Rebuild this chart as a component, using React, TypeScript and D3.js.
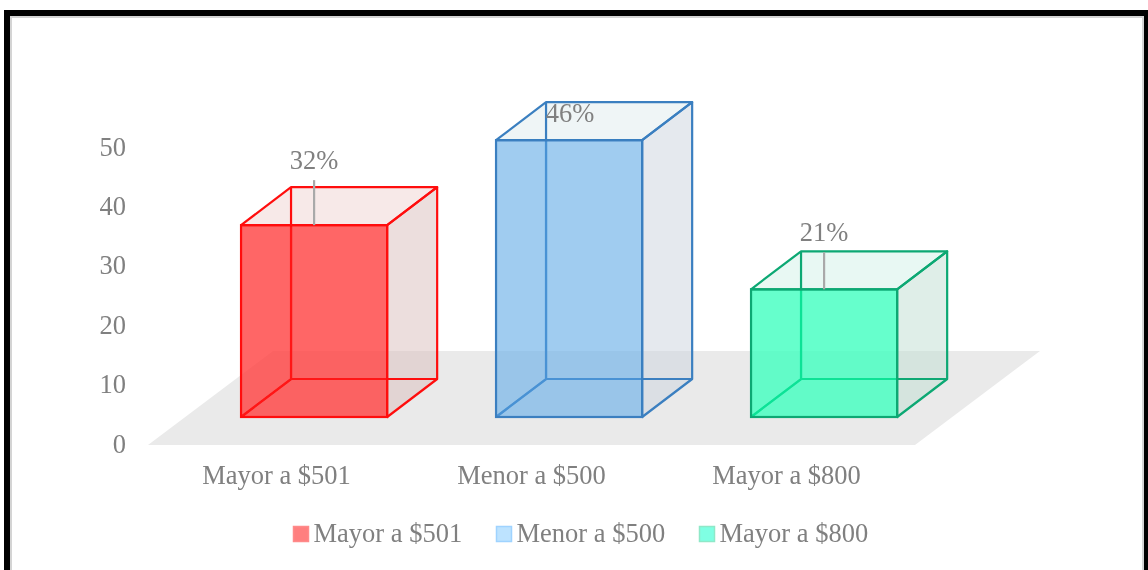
import React from "react";
import * as d3 from "d3";

const categories = ["Mayor a $501", "Menor a $500", "Mayor a $800"];
const values = [32.3, 46.6, 21.5];
const valueLabels = ["32%", "46%", "21%"];
const yTicks = [0, 10, 20, 30, 40, 50];
const frontFills = ["rgba(255,64,64,0.8)", "rgba(109,177,232,0.65)", "rgba(64,255,191,0.8)"];
const sideFills = ["rgba(217,189,187,0.5)", "rgba(203,211,221,0.5)", "rgba(191,221,209,0.5)"];
const topFills = ["#f7e9e8", "#eff5f6", "#e8f8f3"];
const strokes = ["#ff0f0f", "#3a7fc0", "#0aa873"];
const innerStrokes = ["#ff1414", "#4a92d4", "#0ae296"];
const legendFills = ["#ff7f7f", "#bde3ff", "#7fffe3"];
const legendStrokes = ["#ff8a8a", "#9fd3ff", "#8fe8c8"];

const W = 1148;
const H = 570;
const textColor = "#808080";
const font = "'Liberation Serif', 'Times New Roman', serif";
const fontSize = 26.5;

const y = d3.scaleLinear().domain([0, 50]).range([444, 147]);
const x = d3.scaleBand<string>().domain(categories).range([149, 914]).paddingInner(0.427).paddingOuter(0.2135);

const floorDepth = { dx: 125, dy: -94 };
const barDepth = { dx: 50, dy: -38 };
const barLift = 28;
const barShift = 37.6;
const labelOffsets = [-56, -18, -48];
const leaderLengths = [45, 0, 37];

const line = d3.line();

export default function App() {
  const floor = line([
    [148, 445],
    [915, 445],
    [915 + floorDepth.dx, 445 + floorDepth.dy],
    [148 + floorDepth.dx, 445 + floorDepth.dy],
  ]) + "Z";

  const legendX = [293, 496, 699];

  return (
    <svg
      width={W}
      height={H}
      style={{ position: "absolute", left: 0, top: 0, display: "block", background: "#fff" }}
      fontFamily={font}
    >
      <defs>
        <filter id="soft" filterUnits="userSpaceOnUse" x={0} y={0} width={W} height={H}>
          <feGaussianBlur stdDeviation={0.45} />
        </filter>
      </defs>
      <g filter="url(#soft)">
        <rect x={0} y={0} width={W} height={H} fill="#fff" />
        {/* frame */}
        <rect x={11} y={17} width={1132} height={H} fill="none" stroke="#d4d4d4" strokeWidth={2} />
        <rect x={7} y={13} width={1140} height={H + 20} fill="none" stroke="#000" strokeWidth={6} />

        {/* floor */}
        <path d={floor} fill="#eaeaea" />

        {/* y axis */}
        {yTicks.map((t) => (
          <text key={t} x={126} y={y(t) + 8.5} textAnchor="end" fontSize={fontSize} fill={textColor}>
            {t}
          </text>
        ))}

        {/* bars */}
        {categories.map((c, i) => {
          const x0 = (x(c) as number) + barShift;
          const x1 = x0 + x.bandwidth();
          const base = 445 - barLift;
          const h = y(0) - y(values[i]);
          const top = base - h;
          const { dx, dy } = barDepth;
          const side = line([[x1, top], [x1 + dx, top + dy], [x1 + dx, base + dy], [x1, base]]) + "Z";
          const cap = line([[x0, top], [x0 + dx, top + dy], [x1 + dx, top + dy], [x1, top]]) + "Z";
          const backEdges =
            line([[x0, base], [x0 + dx, base + dy], [x1 + dx, base + dy]]) +
            line([[x0 + dx, base + dy], [x0 + dx, top + dy]]);
          const innerEdges =
            line([[x0, base], [x0 + dx, base + dy], [x1, base + dy]]) +
            line([[x0 + dx, base + dy], [x0 + dx, top]]);
          return (
            <g key={c}>
              <path d={side} fill={sideFills[i]} />
              <path d={cap} fill={topFills[i]} />
              <path d={backEdges} fill="none" stroke={strokes[i]} strokeWidth={2.2} />
              <rect x={x0} y={top} width={x1 - x0} height={base - top} fill={frontFills[i]} />
              <path d={innerEdges} fill="none" stroke={innerStrokes[i]} strokeWidth={2.2} />
              <path d={side} fill="none" stroke={strokes[i]} strokeWidth={2.2} strokeLinejoin="round" />
              <path d={cap} fill="none" stroke={strokes[i]} strokeWidth={2.2} strokeLinejoin="round" />
              <rect x={x0} y={top} width={x1 - x0} height={base - top} fill="none" stroke={strokes[i]} strokeWidth={2.2} />
            </g>
          );
        })}

        {/* value labels */}
        {categories.map((c, i) => {
          const xc = (x(c) as number) + barShift + x.bandwidth() / 2;
          const top = 445 - barLift - (y(0) - y(values[i]));
          return (
            <g key={c}>
              {leaderLengths[i] > 0 && (
                <line x1={xc} x2={xc} y1={top - leaderLengths[i]} y2={top} stroke="#a9a9a9" strokeWidth={2.2} />
              )}
              <text
                x={i === 1 ? xc + 1 : xc}
                y={top + labelOffsets[i]}
                textAnchor="middle"
                fontSize={fontSize}
                fill={textColor}
              >
                {valueLabels[i]}
              </text>
            </g>
          );
        })}

        {/* category labels */}
        {categories.map((c) => (
          <text
            key={c}
            x={(x(c) as number) + x.bandwidth() / 2}
            y={484}
            textAnchor="middle"
            fontSize={fontSize}
            fill={textColor}
          >
            {c}
          </text>
        ))}

        {/* legend */}
        {categories.map((c, i) => (
          <g key={c}>
            <rect
              x={legendX[i] + 0.5}
              y={526.5}
              width={15}
              height={15}
              fill={legendFills[i]}
              stroke={legendStrokes[i]}
              strokeWidth={1.5}
            />
            <text x={legendX[i] + 20.5} y={542} fontSize={fontSize} fill={textColor}>
              {c}
            </text>
          </g>
        ))}
      </g>
    </svg>
  );
}
